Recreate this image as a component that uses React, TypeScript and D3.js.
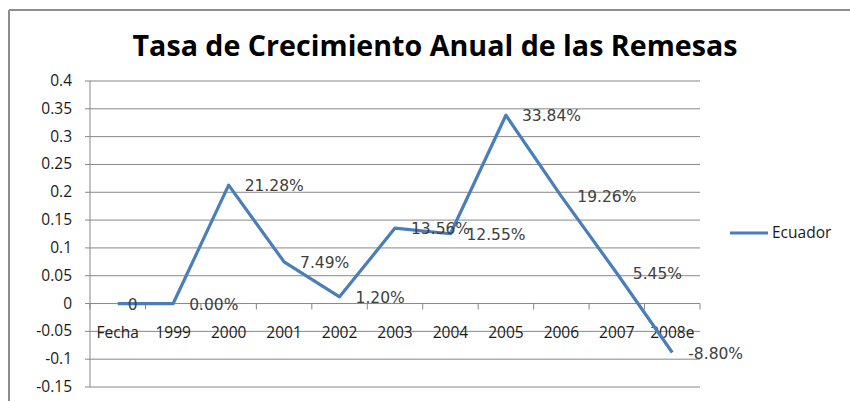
import React from "react";
import * as d3 from "d3";

const categories = ["Fecha", "1999", "2000", "2001", "2002", "2003", "2004", "2005", "2006", "2007", "2008e"];
const values = [0, 0, 0.2128, 0.0749, 0.012, 0.1356, 0.1255, 0.3384, 0.1926, 0.0545, -0.088];
const valueLabels = ["0", "0.00%", "21.28%", "7.49%", "1.20%", "13.56%", "12.55%", "33.84%", "19.26%", "5.45%", "-8.80%"];
const yTicks = [0.4, 0.35, 0.3, 0.25, 0.2, 0.15, 0.1, 0.05, 0, -0.05, -0.1, -0.15];
const seriesName = "Ecuador";
const title = "Tasa de Crecimiento Anual de las Remesas";

const W = 850;
const H = 401;
const left = 90;
const right = 700;
const top = 81;
const bottom = 387;
const lineColor = "#4a7ebb";
const gridColor = "#878787";

export default function App() {
  const x = d3.scaleBand<string>().domain(categories).range([left, right]).padding(0);
  const y = d3.scaleLinear().domain([-0.15, 0.4]).range([bottom, top]);
  const cx = (c: string) => (x(c) as number) + x.bandwidth() / 2;
  const pts = categories.map((c, i) => [cx(c), y(values[i])] as [number, number]);
  const line = d3.line()(pts) as string;
  const y0 = y(0);

  return (
    <svg width={W} height={H} style={{ position: "absolute", left: 0, top: 0, display: "block", background: "#fff" }}>
      <rect x={0} y={0} width={W} height={H} fill="#fff" />
      <line x1={9} y1={10} x2={W} y2={10} stroke="#8c8c8c" strokeWidth={2} />
      <line x1={9} y1={10} x2={9} y2={H} stroke="#8c8c8c" strokeWidth={2} />
      <text x={435} y={56} textAnchor="middle" fontFamily="'Open Sans', sans-serif" fontWeight={700} fontSize={29}
        textLength={605} lengthAdjust="spacingAndGlyphs" fill="#000">{title}</text>
      {yTicks.map((t) => (
        <g key={t}>
          <line x1={left - 5} x2={right} y1={y(t)} y2={y(t)} stroke={gridColor} strokeWidth={1} />
          <text x={72} y={y(t) + 5} textAnchor="end" fontFamily="'Open Sans', sans-serif" fontSize={15.5} fill="#1a1a1a">{String(t)}</text>
        </g>
      ))}
      <line x1={left} x2={left} y1={top} y2={bottom} stroke={gridColor} strokeWidth={1} />
      {categories.concat([""]).map((c, i) => {
        const xx = left + i * x.bandwidth();
        return <line key={"t" + i} x1={xx} x2={xx} y1={y0} y2={y0 + 6} stroke={gridColor} strokeWidth={1} />;
      })}
      {categories.map((c) => (
        <text key={c} x={cx(c)} y={y0 + 34} textAnchor="middle" fontFamily="'Open Sans', sans-serif" fontSize={15.5} fill="#1a1a1a">{c}</text>
      ))}
      <path d={line} fill="none" stroke={lineColor} strokeWidth={3.2} strokeLinejoin="round" />
      {pts.map((p, i) => (
        <text key={"l" + i} x={p[0] + (i === 0 ? 15 : 16)} y={p[1] + 6} textAnchor={i === 0 ? "middle" : "start"}
          fontFamily="'DejaVu Sans', sans-serif" fontSize={15.5} fill="#404040">{valueLabels[i]}</text>
      ))}
      <line x1={730} x2={768} y1={233} y2={233} stroke={lineColor} strokeWidth={3.2} />
      <text x={772} y={238} fontFamily="'Open Sans', sans-serif" fontSize={15.5} fill="#1a1a1a">{seriesName}</text>
    </svg>
  );
}
